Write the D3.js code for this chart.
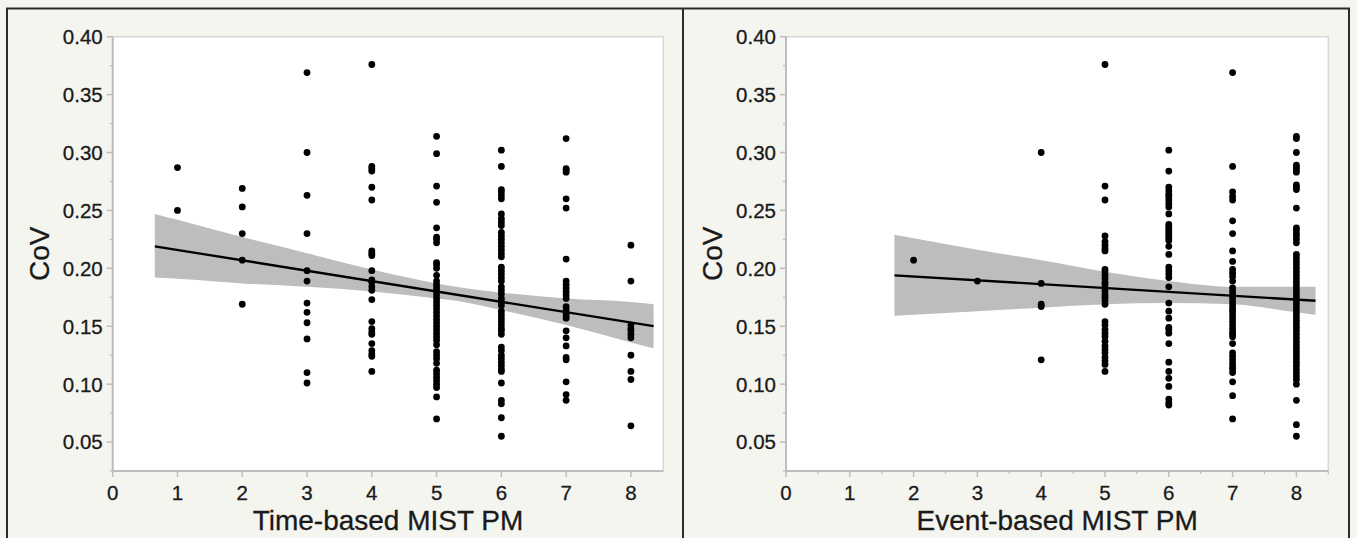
<!DOCTYPE html>
<html><head><meta charset="utf-8">
<script src="https://cdn.jsdelivr.net/npm/d3@7"></script>
<style>
body{margin:0;background:#f5f5f0;}
svg{display:block;}
text{font-family:"Liberation Sans",Arial,Helvetica,sans-serif;fill:#1a1a1a;stroke:#1a1a1a;stroke-width:0.3px;}
</style>
</head><body>
<svg id="chart" width="1357" height="538"></svg>
<script>
// ---------- DATA ----------
const yTickValues = [0.05, 0.10, 0.15, 0.20, 0.25, 0.30, 0.35, 0.40];
const yTickLabels = ["0.05", "0.10", "0.15", "0.20", "0.25", "0.30", "0.35", "0.40"];
const xTickValues = [0, 1, 2, 3, 4, 5, 6, 7, 8];
const xTickLabels = ["0", "1", "2", "3", "4", "5", "6", "7", "8"];
const yAxisTitle = "CoV";
const timeTitle = "Time-based MIST PM";
const eventTitle = "Event-based MIST PM";

// Time-based panel: CoV values for each PM score
const timeScores = [1, 2, 3, 4, 5, 6, 7, 8];
const timeCoV = [
  [0.287, 0.250],
  [0.269, 0.253, 0.230, 0.207, 0.169],
  [0.369, 0.300, 0.263, 0.230, 0.198, 0.189, 0.170, 0.162, 0.153, 0.139, 0.110, 0.101],
  [0.376, 0.288, 0.286, 0.284, 0.270, 0.259, 0.215, 0.213, 0.211, 0.198, 0.190, 0.188, 0.184, 0.181, 0.173,
   0.154, 0.148, 0.145, 0.143, 0.135, 0.129, 0.126, 0.124, 0.111],
  [0.314, 0.299, 0.271, 0.257, 0.235, 0.227, 0.225, 0.222, 0.205, 0.203, 0.200, 0.194, 0.189, 0.186, 0.183,
   0.180, 0.177, 0.174, 0.171, 0.168, 0.165, 0.162, 0.159, 0.156, 0.153, 0.150, 0.147, 0.144, 0.141, 0.138,
   0.134, 0.128, 0.125, 0.122, 0.118, 0.112, 0.109, 0.106, 0.103, 0.100, 0.097, 0.089, 0.070],
  [0.302, 0.288, 0.268, 0.266, 0.263, 0.260, 0.247, 0.243, 0.240, 0.237, 0.231, 0.228, 0.225, 0.222, 0.219,
   0.216, 0.213, 0.210, 0.201, 0.198, 0.195, 0.192, 0.189, 0.184, 0.181, 0.178, 0.174, 0.171, 0.168, 0.163,
   0.160, 0.157, 0.154, 0.151, 0.148, 0.146, 0.143, 0.132, 0.129, 0.125, 0.122, 0.119, 0.116, 0.113, 0.111,
   0.101, 0.086, 0.083, 0.071, 0.055],
  [0.312, 0.286, 0.285, 0.283, 0.260, 0.252, 0.208, 0.189, 0.186, 0.183, 0.180, 0.177, 0.174, 0.167, 0.164,
   0.161, 0.159, 0.157, 0.146, 0.140, 0.133, 0.123, 0.121, 0.102, 0.091, 0.086],
  [0.220, 0.189, 0.151, 0.148, 0.146, 0.143, 0.140, 0.125, 0.111, 0.104, 0.064]
];
// Time-based fit line and confidence band
const timeFitX = [0.65, 8.35];
const timeFitY = [0.219, 0.150];
const timeBandX  = [0.65, 1, 2, 3, 4, 5, 5.3, 6, 7, 8, 8.35];
const timeBandHi = [0.247, 0.242, 0.227, 0.213, 0.199, 0.187, 0.184, 0.179, 0.174, 0.171, 0.169];
const timeBandLo = [0.192, 0.191, 0.187, 0.184, 0.180, 0.174, 0.172, 0.164, 0.151, 0.136, 0.131];

// Event-based panel
const eventScores = [2, 3, 4, 5, 6, 7, 8];
const eventCoV = [
  [0.207],
  [0.189],
  [0.300, 0.187, 0.169, 0.167, 0.121],
  [0.376, 0.271, 0.259, 0.228, 0.223, 0.220, 0.217, 0.215, 0.199, 0.197, 0.194, 0.191, 0.188, 0.186, 0.183,
   0.180, 0.177, 0.175, 0.172, 0.169, 0.154, 0.151, 0.147, 0.144, 0.141, 0.137, 0.133, 0.130, 0.127, 0.123,
   0.120, 0.117, 0.111],
  [0.302, 0.284, 0.270, 0.267, 0.264, 0.262, 0.259, 0.256, 0.253, 0.247, 0.238, 0.236, 0.234, 0.232, 0.230,
   0.228, 0.226, 0.224, 0.219, 0.212, 0.201, 0.198, 0.195, 0.192, 0.184, 0.170, 0.163, 0.157, 0.149, 0.147,
   0.144, 0.135, 0.119, 0.111, 0.105, 0.098, 0.087, 0.084, 0.082],
  [0.369, 0.288, 0.266, 0.262, 0.259, 0.241, 0.230, 0.215, 0.206, 0.199, 0.196, 0.193, 0.189, 0.183, 0.180,
   0.177, 0.174, 0.171, 0.168, 0.165, 0.163, 0.160, 0.157, 0.154, 0.151, 0.148, 0.145, 0.143, 0.141, 0.135,
   0.127, 0.124, 0.121, 0.118, 0.115, 0.113, 0.110, 0.102, 0.090, 0.070],
  [0.314, 0.312, 0.300, 0.289, 0.287, 0.285, 0.283, 0.272, 0.270, 0.268, 0.252, 0.235, 0.233, 0.230, 0.228,
   0.225, 0.222, 0.212, 0.209, 0.206, 0.203, 0.200, 0.197, 0.194, 0.191, 0.188, 0.185, 0.182, 0.179, 0.176,
   0.173, 0.170, 0.167, 0.164, 0.161, 0.158, 0.155, 0.152, 0.149, 0.146, 0.143, 0.140, 0.137, 0.134, 0.131,
   0.128, 0.125, 0.122, 0.119, 0.116, 0.113, 0.110, 0.107, 0.104, 0.100, 0.086, 0.065, 0.055]
];
const eventFitX = [1.7, 8.3];
const eventFitY = [0.194, 0.172];
const eventBandX  = [1.7, 2, 3, 4, 5, 6, 7, 8, 8.3];
const eventBandHi = [0.229, 0.226, 0.216, 0.207, 0.197, 0.189, 0.184, 0.184, 0.184];
const eventBandLo = [0.159, 0.160, 0.163, 0.166, 0.169, 0.170, 0.169, 0.162, 0.160];

// ---------- DRAW ----------
const svg = d3.select("#chart");
svg.append("rect").attr("width", 1357).attr("height", 538).attr("fill", "#f5f5f0");

// outer frame + divider
const frame = svg.append("g").attr("stroke", "#2b2b2b").attr("stroke-width", 2).attr("fill", "none");
frame.append("path").attr("d", "M7,538 L7,8.5 L1349,8.5 L1349,538");
frame.append("line").attr("x1", 683).attr("x2", 683).attr("y1", 8.5).attr("y2", 538);

function panel(cfg) {
  const x = d3.scaleLinear().domain([0, 8.5]).range([cfg.left, cfg.right]);
  const y = d3.scaleLinear().domain([0.025, 0.40]).range([471, 36.7]);
  const g = svg.append("g");

  // plot area
  g.append("rect").attr("x", x(0)).attr("y", y(0.40))
    .attr("width", x(8.5) - x(0)).attr("height", y(0.025) - y(0.40))
    .attr("fill", "#ffffff").attr("stroke", "#d8d8d8").attr("stroke-width", 1.5);

  // confidence band
  const band = cfg.bandX.map((v, i) => ({x: v, hi: cfg.bandHi[i], lo: cfg.bandLo[i]}));
  g.append("path").datum(band)
    .attr("d", d3.area().x(d => x(d.x)).y0(d => y(d.lo)).y1(d => y(d.hi)).curve(d3.curveMonotoneX))
    .attr("fill", "#bdbdbd");

  // points
  const pts = [];
  cfg.scores.forEach((s, i) => cfg.cov[i].forEach(v => pts.push({x: s, y: v})));
  g.append("g").selectAll("circle").data(pts).join("circle")
    .attr("cx", d => x(d.x)).attr("cy", d => y(d.y)).attr("r", 3.4).attr("fill", "#000");

  // fit line
  const fit = cfg.fitX.map((v, i) => ({x: v, y: cfg.fitY[i]}));
  g.append("path").datum(fit)
    .attr("d", d3.line().x(d => x(d.x)).y(d => y(d.y)))
    .attr("stroke", "#000").attr("stroke-width", 2.3).attr("fill", "none");

  // axes lines
  g.append("line").attr("x1", x(0)).attr("x2", x(0)).attr("y1", y(0.40)).attr("y2", y(0.025))
    .attr("stroke", "#bdbdbd").attr("stroke-width", 2);
  g.append("line").attr("x1", x(0)).attr("x2", x(8.5)).attr("y1", y(0.025)).attr("y2", y(0.025))
    .attr("stroke", "#bdbdbd").attr("stroke-width", 2);

  // y ticks (major + minor)
  const yMinor = yTickValues.map(v => v - 0.025);
  g.append("g").selectAll("line").data(yMinor).join("line")
    .attr("x1", x(0) - 3).attr("x2", x(0)).attr("y1", d => y(d)).attr("y2", d => y(d))
    .attr("stroke", "#bdbdbd").attr("stroke-width", 1.2);
  g.append("g").selectAll("line").data(yTickValues).join("line")
    .attr("x1", x(0) - 6).attr("x2", x(0)).attr("y1", d => y(d)).attr("y2", d => y(d))
    .attr("stroke", "#bdbdbd").attr("stroke-width", 1.5);
  g.append("g").selectAll("text").data(yTickValues).join("text")
    .attr("x", x(0) - 10).attr("y", d => y(d)).attr("dy", "0.36em")
    .attr("text-anchor", "end").attr("font-size", 20.5)
    .text((d, i) => yTickLabels[i]);

  // x ticks
  if (cfg.xMinor) {
    const xm = xTickValues.map(v => v + 0.5);
    g.append("g").selectAll("line").data(xm).join("line")
      .attr("x1", d => x(d)).attr("x2", d => x(d)).attr("y1", y(0.025)).attr("y2", y(0.025) + 3)
      .attr("stroke", "#bdbdbd").attr("stroke-width", 1.2);
  }
  g.append("g").selectAll("line").data(xTickValues).join("line")
    .attr("x1", d => x(d)).attr("x2", d => x(d)).attr("y1", y(0.025)).attr("y2", y(0.025) + 6)
    .attr("stroke", "#bdbdbd").attr("stroke-width", 1.5);
  g.append("g").selectAll("text").data(xTickValues).join("text")
    .attr("x", d => x(d)).attr("y", 500)
    .attr("text-anchor", "middle").attr("font-size", 20.5)
    .text((d, i) => xTickLabels[i]);

  // titles
  g.append("text").attr("x", (x(0) + x(8.5)) / 2).attr("y", 529.5)
    .attr("text-anchor", "middle").attr("font-size", 28).text(cfg.title);
  const cy = (y(0.40) + y(0.025)) / 2;
  g.append("text").attr("transform", `translate(${x(0) - 64},${cy}) rotate(-90)`)
    .attr("text-anchor", "middle").attr("font-size", 28).text(yAxisTitle);
}

panel({left: 112.7, right: 663.3, scores: timeScores, cov: timeCoV,
  fitX: timeFitX, fitY: timeFitY, bandX: timeBandX, bandHi: timeBandHi, bandLo: timeBandLo,
  title: timeTitle, xMinor: false});
panel({left: 786, right: 1328.3, scores: eventScores, cov: eventCoV,
  fitX: eventFitX, fitY: eventFitY, bandX: eventBandX, bandHi: eventBandHi, bandLo: eventBandLo,
  title: eventTitle, xMinor: true});
</script>
</body></html>
